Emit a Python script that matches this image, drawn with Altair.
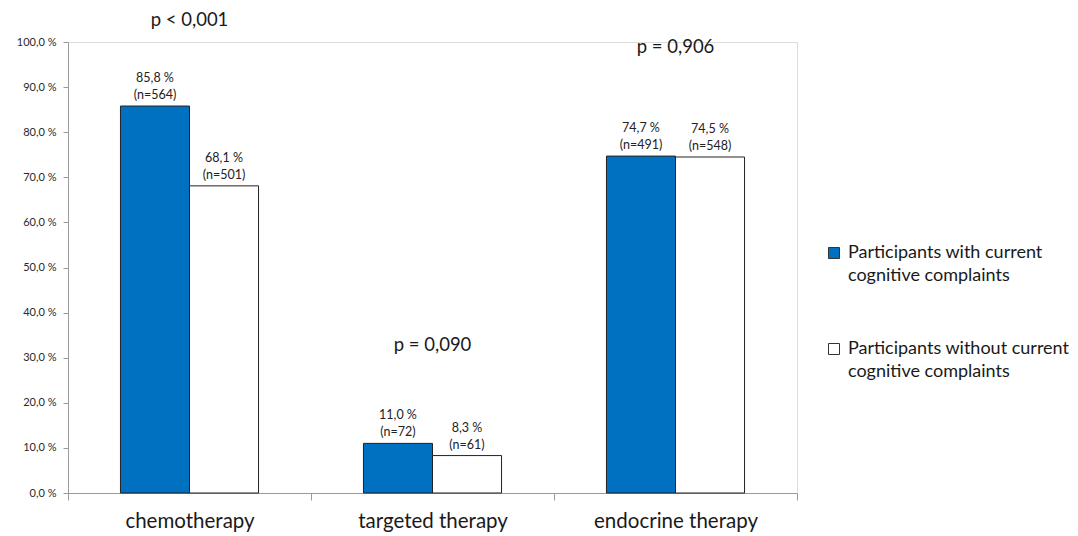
import altair as alt
import pandas as pd

categories = ["chemotherapy", "targeted therapy", "endocrine therapy"]
groups = ["Participants with current cognitive complaints",
          "Participants without current cognitive complaints"]
with_vals = [85.8, 11.0, 74.7]
with_n = [564, 72, 491]
without_vals = [68.1, 8.3, 74.5]
without_n = [501, 61, 548]
p_labels = ["p < 0,001", "p = 0,090", "p = 0,906"]
p_label_height = [104.9, 32.8, 98.9]  # annotation anchor heights in % units

rows = []
for c, v, n in zip(categories, with_vals, with_n):
    rows.append({"cat": c, "grp": groups[0], "val": v,
                 "lab": f"{v:.1f} %".replace(".", ",") + f"\n(n={n})"})
for c, v, n in zip(categories, without_vals, without_n):
    rows.append({"cat": c, "grp": groups[1], "val": v,
                 "lab": f"{v:.1f} %".replace(".", ",") + f"\n(n={n})"})
df = pd.DataFrame(rows)
pdf = pd.DataFrame({"cat": categories, "p": p_labels, "h": p_label_height})

FONT = "Lato"

x = alt.X("cat:N", sort=categories, title=None,
          scale=alt.Scale(paddingInner=0, paddingOuter=0),
          axis=alt.Axis(labelAngle=0, labelFontSize=20.5, labelColor="#1a1a1a",
                        labelFont=FONT, domainColor="#9a9a9a", tickColor="#9a9a9a",
                        tickSize=7, tickBand="extent", labelPadding=11))
xo = alt.XOffset("grp:N", sort=groups,
                 scale=alt.Scale(paddingInner=0, paddingOuter=0.76))
y = alt.Y("val:Q", title=None,
          scale=alt.Scale(domain=[0, 100], nice=False),
          axis=alt.Axis(values=list(range(0, 101, 10)), grid=False,
                        labelExpr="replace(format(datum.value, '.1f'), '.', ',') + ' %'",
                        labelFontSize=11, labelColor="#2a2a2a", labelFont=FONT,
                        domainColor="#9a9a9a", tickColor="#9a9a9a", tickSize=5,
                        labelPadding=7))

color = alt.Color("grp:N", sort=groups, title=None,
                  scale=alt.Scale(domain=groups, range=["#0070C0", "#ffffff"]),
                  legend=alt.Legend(orient="none", legendX=757, legendY=202,
                                    labelFont=FONT, labelFontSize=18, labelColor="#1a1a1a",
                                    labelLimit=400, labelOffset=5,
                                    labelExpr="[slice(datum.label, 0, indexof(datum.label, ' cognitive')), 'cognitive complaints']",
                                    symbolType="square",
                                    symbolSize=121, symbolStrokeColor="#333333",
                                    symbolStrokeWidth=1, rowPadding=55, padding=0))

bars = alt.Chart(df).mark_bar(stroke="#222222", strokeWidth=1).encode(
    x=x, xOffset=xo, y=y, color=color)

labels = alt.Chart(df).mark_text(baseline="bottom", dy=-21, lineBreak="\n",
                                 lineHeight=17, fontSize=12.5, font=FONT,
                                 color="#222222").encode(
    x=alt.X("cat:N", sort=categories), xOffset=alt.XOffset("grp:N", sort=groups),
    y="val:Q", text="lab:N")

plabels = alt.Chart(pdf).mark_text(baseline="middle", fontSize=18.5, font=FONT,
                                   color="#1a1a1a").encode(
    x=alt.X("cat:N", sort=categories), y=alt.Y("h:Q"), text="p:N")

chart = alt.layer(bars, labels, plabels).properties(
    width=729, height=451,
    autosize=alt.AutoSizeParams(type="none"),
    padding={"left": 60, "top": 34, "right": 273, "bottom": 40},
).configure_view(stroke=None).configure(
    style={"guide-label": {"lineHeight": 23}}
)

chart.save("out.html", embed_options={"renderer": "svg", "actions": False})
